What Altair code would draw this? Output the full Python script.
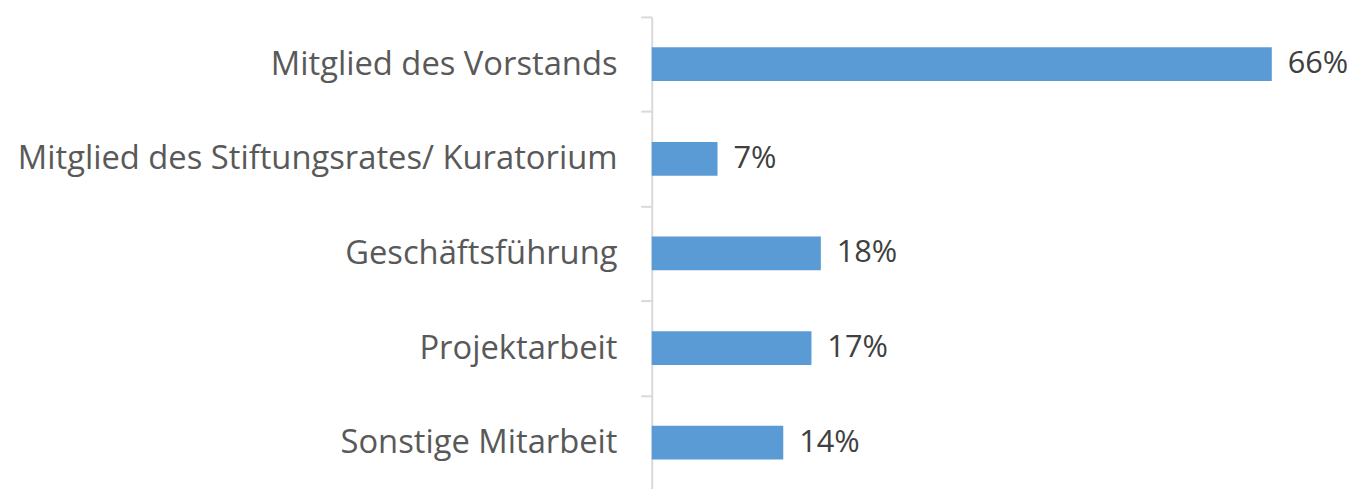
import altair as alt
import pandas as pd

categories = ["Mitglied des Vorstands", "Mitglied des Stiftungsrates/ Kuratorium",
              "Geschäftsführung", "Projektarbeit", "Sonstige Mitarbeit"]
values = [66, 7, 18, 17, 14]
labels = ["66%", "7%", "18%", "17%", "14%"]

df = pd.DataFrame({"cat": categories, "val": values, "lab": labels})

FONT = "Open Sans"

y_enc = alt.Y("cat:N", sort=categories, title=None,
              scale=alt.Scale(paddingInner=0, paddingOuter=0),
              axis=alt.Axis(domainColor="#d9d9d9", domainWidth=2, tickColor="#d9d9d9",
                            tickWidth=2, tickSize=11, tickBand="extent",
                            labelFont=FONT, labelFontSize=33, labelColor="#595959",
                            labelPadding=24, labelLimit=700))
x_enc = alt.X("val:Q", scale=alt.Scale(domain=[0, 70]), axis=None)

bars = alt.Chart(df).mark_bar(color="#5b9bd5", height=34).encode(x=x_enc, y=y_enc)
text = alt.Chart(df).mark_text(align="left", dx=16, font=FONT, fontSize=31,
                               color="#404040").encode(x=x_enc, y=alt.Y("cat:N", sort=categories), text="lab:N")

chart = (bars + text).properties(
    width=663, height=477,
    padding={"left": 649, "top": 7, "right": 46, "bottom": 0},
    autosize=alt.AutoSizeParams(type="none"),
).configure_view(stroke=None)

chart.save("out.html", embed_options={"renderer": "svg", "actions": False})
